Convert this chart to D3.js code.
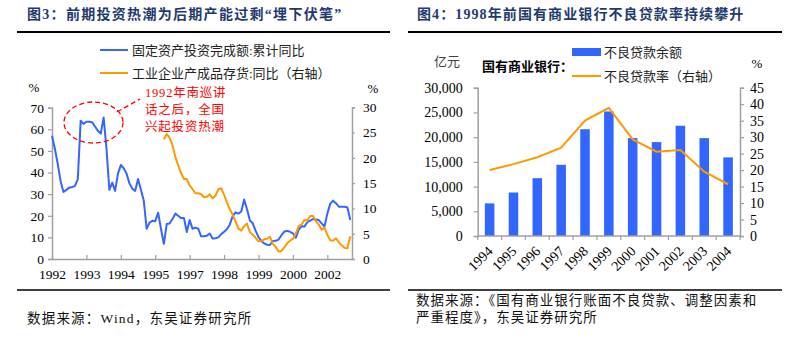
<!DOCTYPE html>
<html>
<head>
<meta charset="utf-8">
<script src="https://cdn.jsdelivr.net/npm/d3@7"></script>
<style>
  body { margin: 0; background: #fff; }
  svg { display: block; }
  text { font-family: "Liberation Serif", "Noto Sans CJK SC", serif; }
</style>
</head>
<body>
<div id="container"></div>
<script>
// ---- 图3 数据（月度，1992 起）
let fig3Years = ['1992', '1993', '1994', '1995', '1997', '1998', '1999', '2000', '2002']
let investYoY = [57, 51, 44, 36, 31, 32, 33, 33.3, 33.7, 37,
  64, 62.5, 63.5, 63.5, 63.3, 61.3, 59.3, 58, 65.5, 51,
  32, 35.3, 31.5, 39.5, 43.5, 42, 39.5, 35, 32.5, 31.5,
  37, 32, 27, 14, 16.8, 17.7, 17.5, 21.4, 14, 7,
  16.2, 16.4, 18.5, 21, 20, 19, 19, 12.5, 18, 14,
  14.5, 14, 10.5, 10.5, 10.8, 11.8, 9.5, 9.6, 10, 11.5,
  12.6, 13.8, 16, 19.8, 21.6, 21, 22, 27.5, 23, 17.8,
  16.5, 13, 10.2, 8.3, 7.2, 6.6, 6.5, 8.3, 8.4, 9,
  11, 12.7, 13, 12.6, 11.9, 9.8, 13.5, 15.2, 15, 17,
  17.8, 18.5, 18.3, 18, 16.5, 15, 21, 25.5, 27, 25.8,
  24.2, 24.2, 24.2, 23.8, 18]
let inventoryStart = 39
let inventoryYoY = [23.7, 24.7, 24, 22.5, 20.2, 18.5, 17, 15.8, 15.8, 14.5,
  13.8, 13, 13, 12.8, 12.2, 12.3, 12.8, 12, 12.5, 13.8,
  14, 12.7, 11.2, 9.8, 8.8, 7.4, 6, 5.6, 6.5, 7,
  5.3, 4.8, 4.2, 3.5, 3.6, 3.9, 4, 4.4, 3, 2.4,
  1.5, 1.6, 2.3, 3.1, 3.6, 4, 5, 6.5, 6.8, 7.7,
  7.6, 8.5, 8.5, 7.5, 6.8, 5.8, 6.2, 4.8, 3.7, 3.6,
  4.1, 3.3, 2.7, 2.2, 2.1, 4.5]

// ---- 图4 数据
let bankYears = ['1994', '1995', '1996', '1997', '1998', '1999', '2000', '2001', '2002', '2003', '2004']
let npl = [6600, 8800, 11700, 14400, 21600, 25200, 19800, 19000, 22300, 19800, 15900]
let nplRate = [20, 21.8, 23.9, 26.8, 35, 38.9, 29.3, 25.6, 26.1, 19.5, 15.7]

let blue = '#3366ff', orange = '#ff9900', axisGray = '#a0a0a0', navy = '#1f3a6e'

let svg = d3.select('#container')
  .append('svg')
  .attr('width', 792)
  .attr('height', 351)

svg.append('rect').attr('width', 792).attr('height', 351).attr('fill', '#fff')

function styleAxis(g, size) {
  g.select('.domain').attr('stroke', axisGray).attr('stroke-width', 1.5)
  g.selectAll('.tick line').attr('stroke', axisGray).attr('stroke-width', 1.2)
  g.selectAll('.tick text').attr('fill', '#000').style('font-size', size + 'px')
    .style('font-family', '"Liberation Serif", serif')
}

// ================= 图3 =================
let left = svg.append('g')

left.append('text')
  .attr('x', 27).attr('y', 19)
  .attr('fill', navy).style('font-size', '14px').style('font-weight', 'bold')
  .style('letter-spacing', '1.3px')
  .text('图3：前期投资热潮为后期产能过剩“埋下伏笔”')
left.append('line').attr('x1', 17).attr('x2', 390).attr('y1', 32).attr('y2', 32)
  .attr('stroke', '#000').attr('stroke-width', 2)

let x3 = d3.scaleLinear().domain([0, 104.6]).range([52, 352])
let yL = d3.scaleLinear().domain([0, 70]).range([259, 107.7])
let yR = d3.scaleLinear().domain([0, 30]).range([259, 107.3])

left.append('g').attr('transform', 'translate(52,0)')
  .call(d3.axisLeft(yL).tickValues(d3.range(0, 71, 10)).tickSize(4).tickPadding(4))
  .call(g => styleAxis(g, 13.5))
left.append('g').attr('transform', 'translate(352,0)')
  .call(d3.axisRight(yR).tickValues(d3.range(0, 31, 5)).tickSize(3).tickPadding(8))
  .call(g => styleAxis(g, 13.5))
left.append('g').attr('transform', 'translate(0,259)')
  .call(d3.axisBottom(x3).tickValues(d3.range(0, 97, 12))
    .tickFormat((d, i) => fig3Years[i]).tickSizeInner(-4).tickSizeOuter(0).tickPadding(10))
  .call(g => styleAxis(g, 13.5))

left.append('text').attr('x', 34).attr('y', 92).attr('text-anchor', 'middle')
  .style('font-size', '13px').text('%')
left.append('text').attr('x', 373).attr('y', 93).attr('text-anchor', 'middle')
  .style('font-size', '13px').text('%')

let line3 = d3.line().x(d => x3(d.i)).y(d => d.y)
left.append('path')
  .datum(investYoY.map((v, i) => ({ i: i, y: yL(v) })))
  .attr('fill', 'none').attr('stroke', blue).attr('stroke-width', 2)
  .attr('stroke-linejoin', 'round')
  .attr('d', line3)
left.append('path')
  .datum(inventoryYoY.map((v, i) => ({ i: i + inventoryStart, y: yR(v) })))
  .attr('fill', 'none').attr('stroke', orange).attr('stroke-width', 2)
  .attr('stroke-linejoin', 'round')
  .attr('d', line3)

// 图例
let leg3 = [
  { label: '固定资产投资完成额:累计同比', color: blue, y: 50 },
  { label: '工业企业产成品存货:同比（右轴）', color: orange, y: 73 }
]
leg3.forEach(d => {
  left.append('line').attr('x1', 100).attr('x2', 128).attr('y1', d.y).attr('y2', d.y)
    .attr('stroke', d.color).attr('stroke-width', 2)
  left.append('text').attr('x', 132).attr('y', d.y + 4.5)
    .style('font-size', '13px').attr('fill', '#222').text(d.label)
})

// 标注
left.append('ellipse').attr('cx', 93.5).attr('cy', 122.5).attr('rx', 29.5).attr('ry', 20.5)
  .attr('fill', 'none').attr('stroke', '#ff0000').attr('stroke-width', 1.3)
  .attr('stroke-dasharray', '5,3')
left.append('line').attr('x1', 117).attr('y1', 112).attr('x2', 140).attr('y2', 99)
  .attr('stroke', '#ff0000').attr('stroke-width', 1.3).attr('stroke-dasharray', '5,3')
let note = ['1992年南巡讲', '话之后，全国', '兴起投资热潮']
note.forEach((t, i) => {
  left.append('text').attr('x', 145).attr('y', 96.5 + i * 17)
    .attr('fill', '#ff0000').style('font-size', '12.5px').style('letter-spacing', '0.8px')
    .text(t)
})

left.append('line').attr('x1', 17).attr('x2', 390).attr('y1', 290).attr('y2', 290)
  .attr('stroke', '#000').attr('stroke-width', 1.5)
left.append('text').attr('x', 27).attr('y', 323)
  .style('font-size', '13.5px').style('letter-spacing', '1.2px').attr('fill', '#111')
  .text('数据来源：Wind，东吴证券研究所')

// ================= 图4 =================
let right = svg.append('g')

right.append('text')
  .attr('x', 417).attr('y', 19)
  .attr('fill', navy).style('font-size', '14px').style('font-weight', 'bold')
  .style('letter-spacing', '1.1px')
  .text('图4：1998年前国有商业银行不良贷款率持续攀升')
right.append('line').attr('x1', 408).attr('x2', 782).attr('y1', 32).attr('y2', 32)
  .attr('stroke', '#000').attr('stroke-width', 2)

let xb = d3.scaleBand().domain(bankYears).range([477.7, 740])
let yBar = d3.scaleLinear().domain([0, 30000]).range([236, 87.7])
let yRate = d3.scaleLinear().domain([0, 45]).range([236, 87.7])
let barW = xb.bandwidth() * 0.4

right.append('g').attr('transform', 'translate(477.7,0)')
  .call(d3.axisLeft(yBar).tickValues(d3.range(0, 30001, 5000))
    .tickFormat(d3.format(',')).tickSize(4).tickPadding(11))
  .call(g => styleAxis(g, 14))
right.append('g').attr('transform', 'translate(740,0)')
  .call(d3.axisRight(yRate).tickValues(d3.range(0, 46, 5)).tickSize(4).tickPadding(6))
  .call(g => styleAxis(g, 14))

right.selectAll('rect.bar')
  .data(npl).enter().append('rect')
  .attr('class', 'bar')
  .attr('x', (d, i) => xb(bankYears[i]) + (xb.bandwidth() - barW) / 2)
  .attr('y', d => yBar(d))
  .attr('width', barW)
  .attr('height', d => yBar(0) - yBar(d))
  .attr('fill', blue)

// x 轴：分类边界刻度
let xAxis4 = right.append('g')
xAxis4.append('line').attr('x1', 477.7).attr('x2', 740).attr('y1', 236).attr('y2', 236)
  .attr('stroke', axisGray).attr('stroke-width', 1.5)
xAxis4.selectAll('line.tk')
  .data(bankYears.map(d => xb(d)).concat([xb.range()[1]]))
  .enter().append('line')
  .attr('x1', d => d).attr('x2', d => d).attr('y1', 236).attr('y2', 240)
  .attr('stroke', axisGray).attr('stroke-width', 1.2)
xAxis4.selectAll('text')
  .data(bankYears).enter().append('text')
  .attr('text-anchor', 'end')
  .attr('transform', d => 'translate(' + (xb(d) + xb.bandwidth() / 2 + 4) + ',252) rotate(-45)')
  .style('font-size', '14px')
  .text(d => d)

right.append('path')
  .datum(nplRate)
  .attr('fill', 'none').attr('stroke', orange).attr('stroke-width', 2)
  .attr('d', d3.line().x((d, i) => xb(bankYears[i]) + xb.bandwidth() / 2).y(d => yRate(d)))

right.append('text').attr('x', 447).attr('y', 66).attr('text-anchor', 'middle')
  .style('font-size', '13px').attr('fill', '#404040').text('亿元')
right.append('text').attr('x', 757).attr('y', 68).attr('text-anchor', 'middle')
  .style('font-size', '13px').text('%')

right.append('text').attr('x', 482).attr('y', 71)
  .style('font-size', '13px').style('font-weight', 'bold').text('国有商业银行：')
right.append('rect').attr('x', 572).attr('y', 48).attr('width', 29).attr('height', 8).attr('fill', blue)
right.append('text').attr('x', 604).attr('y', 56.5).style('font-size', '13px').attr('fill', '#222').text('不良贷款余额')
right.append('line').attr('x1', 572).attr('x2', 601).attr('y1', 76).attr('y2', 76)
  .attr('stroke', orange).attr('stroke-width', 2)
right.append('text').attr('x', 604).attr('y', 80.5).style('font-size', '13px').attr('fill', '#222').text('不良贷款率（右轴）')

right.append('line').attr('x1', 408).attr('x2', 782).attr('y1', 290).attr('y2', 290)
  .attr('stroke', '#000').attr('stroke-width', 1.5)
right.append('text').attr('x', 416).attr('y', 305)
  .style('font-size', '13.5px').style('letter-spacing', '1px').attr('fill', '#111')
  .text('数据来源：《国有商业银行账面不良贷款、调整因素和')
right.append('text').attr('x', 416).attr('y', 322)
  .style('font-size', '13.5px').style('letter-spacing', '1px').attr('fill', '#111')
  .text('严重程度》，东吴证券研究所')
</script>
</body>
</html>
